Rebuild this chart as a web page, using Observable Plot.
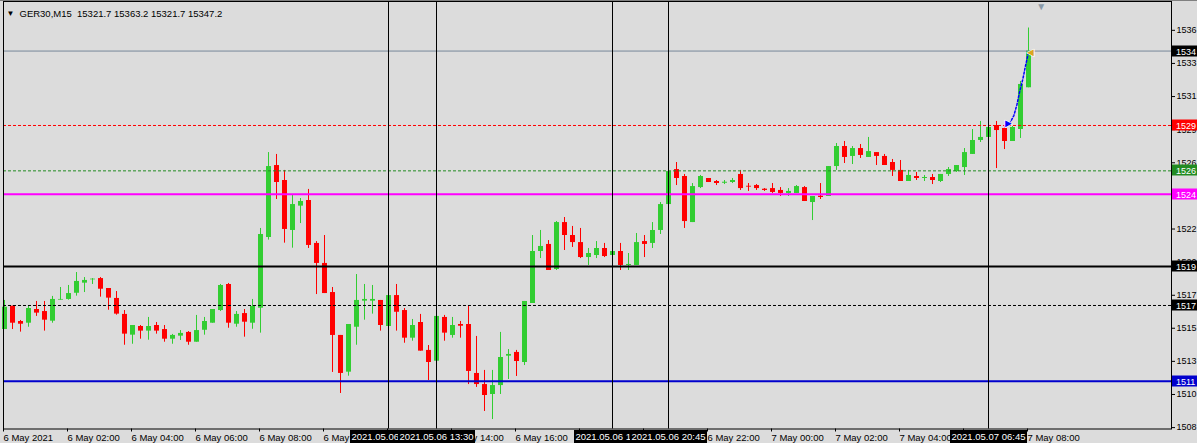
<!DOCTYPE html>
<html><head><meta charset="utf-8">
<script src="https://cdn.jsdelivr.net/npm/d3@7"></script>
<script src="https://cdn.jsdelivr.net/npm/@observablehq/plot@0.6"></script>
<style>
html,body{margin:0;padding:0;background:#dcdcdc;}
#chart svg{display:block;}
</style></head><body><div id="chart"></div>
<script>
// ---- DATA (GER30, M15, bars from 6 May 2021 00:00, 15-minute steps) ----
const opens = [15153.8,15170.0,15159.4,15158.2,15167.7,15166.3,15159.6,15174.2,15174.7,15179.0,
15186.0,15188.3,15189.2,15182.3,15175.4,15164.3,15149.9,15155.9,15152.7,15156.6,
15153.8,15147.1,15149.2,15151.8,15145.0,15153.3,15158.2,15167.0,15185.1,15157.5,
15164.9,15158.2,15168.6,15217.7,15267.7,15257.3,15222.6,15239.5,15243.4,15213.6,
15199.7,15179.5,15149.7,15124.2,15155.4,15173.5,15173.5,15174.0,15155.9,15177.4,
15167.0,15147.8,15158.7,15139.3,15131.8,15162.2,15149.7,15157.3,15157.3,15123.3,
15115.6,15108.7,15114.9,15135.3,15137.9,15130.9,15171.9,15208.0,15212.9,15195.5,
15228.1,15219.1,15214.2,15203.8,15205.2,15210.1,15205.2,15208.0,15198.3,15198.3,
15214.9,15213.6,15222.6,15240.6,15264.9,15260.1,15228.1,15252.4,15258.7,15256.6,
15255.4,15255.9,15261.5,15253.3,15253.8,15251.3,15251.7,15250.4,15248.3,15248.3,
15252.4,15242.0,15246.4,15246.2,15267.0,15280.9,15274.0,15279.5,15273.3,15276.7,
15274.0,15269.8,15264.3,15256.6,15260.1,15258.7,15259.4,15256.6,15261.5,15263.5,
15266.3,15275.4,15285.1,15287.2,15295.5,15293.4,15284.4,15292.7,15321.7];
const highs = [15174.0,15170.0,15160.1,15170.3,15173.3,15173.3,15176.8,15183.0,15184.4,15193.4,
15189.9,15189.2,15189.9,15182.3,15180.2,15167.0,15156.6,15156.6,15162.2,15158.7,
15156.6,15150.4,15153.1,15152.4,15163.6,15162.2,15167.7,15185.1,15185.8,15166.3,
15167.7,15174.7,15224.0,15276.7,15275.4,15264.3,15246.9,15244.8,15251.1,15214.9,
15219.1,15183.0,15149.7,15157.3,15192.0,15185.1,15184.4,15174.0,15177.4,15185.1,
15168.4,15160.8,15164.3,15142.7,15162.9,15163.6,15162.2,15159.4,15170.5,15149.0,
15125.4,15125.4,15151.8,15139.9,15139.3,15173.3,15219.1,15222.6,15215.6,15228.8,
15231.6,15225.4,15224.0,15210.1,15214.9,15213.6,15208.0,15213.6,15206.6,15220.5,
15219.1,15228.1,15242.0,15263.5,15269.8,15261.5,15255.2,15260.8,15258.7,15257.3,
15257.3,15258.7,15264.3,15255.2,15254.5,15251.7,15255.2,15252.4,15251.7,15253.8,
15253.1,15246.2,15255.2,15267.0,15283.0,15284.4,15280.9,15282.3,15287.2,15276.7,
15275.4,15271.9,15271.2,15264.3,15262.9,15260.8,15261.5,15261.5,15266.3,15267.7,
15279.5,15292.7,15298.3,15294.1,15298.3,15294.8,15294.8,15326.1,15363.2];
const lows = [15153.8,15153.8,15152.0,15155.4,15162.9,15152.7,15158.2,15174.2,15174.2,15177.0,
15179.5,15185.1,15176.3,15167.2,15163.8,15142.9,15143.6,15147.1,15146.4,15150.6,
15145.0,15143.6,15146.2,15142.9,15145.0,15149.9,15158.2,15166.3,15154.7,15155.4,
15148.5,15154.0,15151.3,15215.9,15244.1,15213.8,15210.3,15227.4,15210.1,15178.1,
15178.8,15124.0,15109.4,15121.4,15142.9,15160.3,15164.5,15152.7,15155.9,15152.7,
15144.3,15145.7,15138.8,15118.4,15131.8,15145.7,15147.8,15147.8,15115.6,15113.6,
15096.9,15091.3,15108.7,15119.1,15121.2,15128.8,15171.9,15203.1,15194.8,15194.8,
15208.7,15210.8,15203.1,15198.3,15203.1,15203.8,15205.2,15194.8,15194.8,15198.3,
15203.8,15210.1,15219.8,15240.6,15253.8,15224.0,15228.1,15251.7,15255.9,15253.8,
15254.5,15255.2,15250.4,15249.7,15250.4,15249.7,15248.3,15246.2,15246.2,15248.3,
15242.7,15229.5,15244.1,15246.2,15264.3,15269.1,15268.4,15272.6,15273.3,15267.7,
15267.7,15260.1,15256.6,15256.6,15257.3,15256.6,15254.5,15255.9,15260.1,15262.9,
15260.8,15275.4,15283.7,15287.2,15265.6,15278.8,15284.4,15286.5,15321.7];
const closes = [15169.3,15158.2,15157.5,15168.4,15165.2,15160.3,15174.7,15174.7,15178.8,15187.2,
15187.9,15188.8,15181.8,15175.6,15164.5,15150.6,15156.6,15152.7,15155.9,15152.7,
15147.1,15149.7,15151.1,15145.0,15153.1,15159.4,15167.7,15184.4,15158.2,15164.3,
15158.9,15169.8,15219.8,15267.0,15255.9,15223.3,15240.6,15242.7,15212.2,15199.7,
15178.8,15149.7,15123.3,15157.3,15174.0,15174.7,15174.7,15156.6,15177.4,15165.8,
15147.8,15156.6,15138.8,15130.9,15162.9,15151.3,15156.6,15156.1,15124.7,15115.6,
15108.0,15114.9,15134.4,15136.5,15131.6,15173.3,15208.0,15211.5,15194.8,15228.1,
15219.1,15214.2,15203.8,15206.6,15210.1,15204.5,15208.0,15198.3,15199.0,15214.2,
15212.9,15222.6,15240.6,15263.5,15258.7,15228.8,15253.1,15260.1,15255.9,15255.2,
15256.1,15257.3,15251.7,15252.7,15251.7,15250.4,15249.0,15248.3,15249.7,15253.1,
15242.7,15246.2,15245.5,15267.0,15280.9,15273.3,15279.5,15274.7,15277.4,15274.0,
15267.7,15264.3,15256.6,15260.8,15258.7,15259.4,15257.3,15261.5,15264.9,15267.7,
15276.7,15285.1,15287.2,15294.1,15292.0,15284.4,15294.1,15324.0,15347.2];

const titleText = "GER30,M15  15321.7 15363.2 15321.7 15347.2";

// x axis: bar index of each label, and its text
const xTickBars = [0,8,16,24,32,40,48,56,64,72,80,88,96,104,112,120,128];
const xTickLabels = ["6 May 2021","6 May 02:00","6 May 04:00","6 May 06:00","6 May 08:00","6 May 10:00",
  "6 May 12:00","6 May 14:00","6 May 16:00","6 May 18:00","6 May 20:00","6 May 22:00",
  "7 May 00:00","7 May 02:00","7 May 04:00","7 May 06:00","7 May 08:00"];

// y axis tick values (price) shown truncated as on the terminal
const yTickValues = [15085.7,15108.7,15131.7,15154.7,15177.6,15200.6,15223.6,15246.6,15269.6,15292.6,15315.6,15338.6,15361.6];
const yDomain = [15084.73, 15381.61];
const xDomain = [-0.125, 145.875];

// vertical lines (bar index) and their time labels
const vlineBars = [48,54,76,83,123];
const vlineLabels = ["2021.05.06 12:00","2021.05.06 13:30","2021.05.06 19:00","2021.05.06 20:45","2021.05.07 06:45"];

// horizontal levels (price) and their axis labels
const levelPrices = [15347.2,15295.5,15264.0,15247.8,15197.6,15170.5,15117.9];
const levelLabels = ["1534","1529","1526","1524","1519","1517","1511"];

// trade path (bar position, price)
const tradeBars = [125.63,126.17,126.55,126.88,127.3,127.59,128.0];
const tradePrices = [15296.7,15302.4,15309.9,15318.6,15327.9,15336.0,15346.4];
const shiftMarkBar = 129.6;

// ---- STYLES ----
const levelStyles = [
  {stroke:"#778899", width:1, dash:null, box:"#000000"},
  {stroke:"#ff0000", width:1, dash:"3,2", box:"#ff0000"},
  {stroke:"#228b22", width:1, dash:"3,2", box:"#228b22"},
  {stroke:"#ff00ff", width:2, dash:null, box:"#ff00ff"},
  {stroke:"#000000", width:2, dash:null, box:"#000000"},
  {stroke:"#000000", width:1, dash:"3,2", box:"#000000"},
  {stroke:"#0000cd", width:2, dash:null, box:"#0000cd"}
];
const BULL = "#32cd32", BEAR = "#ff0000";
const FONT = "'Liberation Sans', Arial, sans-serif";
const FS = 9.5, FSY = 9;

const bars = opens.map((o,i)=>({i, open:o, high:highs[i], low:lows[i], close:closes[i]}));
const col = d => d.close >= d.open ? BULL : BEAR;
const labelByBar = new Map(xTickBars.map((b,k)=>[b, xTickLabels[k]]));
const levels = levelPrices.map((p,k)=>({p, label:levelLabels[k], ...levelStyles[k]}));
const trade = tradeBars.map((b,k)=>({b, p:tradePrices[k]}));

const W = 1197, H = 443;
const chart = Plot.plot({
  width: W, height: H,
  marginLeft: 3, marginRight: 26, marginTop: 1, marginBottom: 14.5,
  style: {background:"#dcdcdc", fontFamily: FONT, fontSize: FS+"px", color:"#000"},
  x: {type:"linear", domain: xDomain, range:[3, 1171]},
  y: {type:"linear", domain: yDomain, range:[428.5, 1]},
  marks: [
    Plot.ruleX(bars, {x:"i", y1:"low", y2:"high", stroke: col, strokeWidth:1}),
    Plot.ruleX(bars, {x:"i", y1:"open", y2:"close", stroke: col, strokeWidth:5}),
    ...levels.map(l => Plot.ruleY([l.p], {stroke:l.stroke, strokeWidth:l.width, strokeDasharray: l.dash})),
    Plot.ruleX(vlineBars, {stroke:"#000", strokeWidth:1}),
    Plot.line(trade, {x:"b", y:"p", stroke:"#0000ff", strokeWidth:1.5, strokeDasharray:"2,2"}),
    Plot.text([trade[0]], {x:"b", y:"p", text:()=>"►", fill:"#0000ff", stroke:"#fff", strokeWidth:1.5, paintOrder:"stroke", fontSize:11, dx:-1}),
    Plot.text([trade[trade.length-1]], {x:"b", y:"p", text:()=>"◄", fill:"#daa520", stroke:"#fff", strokeWidth:1.5, paintOrder:"stroke", fontSize:11, dx:2}),
    Plot.frame({stroke:"#000"}),
    Plot.axisY({anchor:"right", ticks: yTickValues, tickFormat: d => String(Math.floor(d/10)), tickSize:3, tickPadding:2, fontSize:FSY, label:null, stroke:"#000"}),
    Plot.axisX({anchor:"bottom", ticks: xTickBars, tickFormat: d => labelByBar.get(d), tickSize:3, tickPadding:2, textAnchor:"start", dx:-1, fontSize:FS, label:null, stroke:"#000"}),
    Plot.text([titleText], {frameAnchor:"top-left", dx:16, dy:12, lineAnchor:"middle", textAnchor:"start", fontSize:FS, fill:"#000"}),
    Plot.text(["▼"], {frameAnchor:"top-left", dx:3, dy:12, lineAnchor:"middle", textAnchor:"start", fontSize:8, fill:"#000"}),
    Plot.text(["▼"], {x: () => shiftMarkBar, frameAnchor:"top", dy:5, lineAnchor:"middle", fontSize:10, fill:"#8a9aa8"})
  ]
});
document.getElementById("chart").appendChild(chart);

// ---- labels with coloured boxes, placed with the chart's own scales ----
const svg = d3.select(chart);
const sx = chart.scale("x"), sy = chart.scale("y");
const X = v => sx.apply(v), Y = v => sy.apply(v);
const frameRight = 1171;

svg.append("line").attr("x1",0).attr("x2",W).attr("y1",0.5).attr("y2",0.5).attr("stroke","#808080");

const defs = svg.append("defs");
const gr = svg.append("g").attr("font-family", FONT).attr("font-size", FSY).attr("text-anchor","start");
levels.forEach(l => {
  const y = Y(l.p);
  gr.append("rect").attr("x", frameRight+1).attr("y", Math.round(y)-5.5).attr("width", W-frameRight).attr("height", 11).attr("fill", l.box);
  gr.append("text").attr("x", frameRight+5).attr("y", Math.round(y)+0.5).attr("dy","0.35em").attr("fill","#fff").text(l.label);
});

const gb = svg.append("g").attr("font-family", FONT).attr("font-size", FS).attr("text-anchor","middle");
const BW = 77;
vlineBars.forEach((b,k) => {
  const x = X(b) + 0.5;
  const left = x - BW/2;
  let right = x + BW/2;
  if (k+1 < vlineBars.length) {
    const nextLeft = X(vlineBars[k+1]) + 0.5 - BW/2;
    if (nextLeft < right) right = nextLeft;
  }
  const id = "clipbox" + k;
  defs.append("clipPath").attr("id", id).append("rect").attr("x", left).attr("y", 428).attr("width", right-left).attr("height", 15);
  gb.append("rect").attr("x", left).attr("y", 430).attr("width", BW).attr("height", 13).attr("fill","#000");
  gb.append("text").attr("clip-path", `url(#${id})`).attr("x", x).attr("y", 437).attr("dy","0.35em").attr("fill","#fff").text(vlineLabels[k]);
});
</script>
</body></html>
